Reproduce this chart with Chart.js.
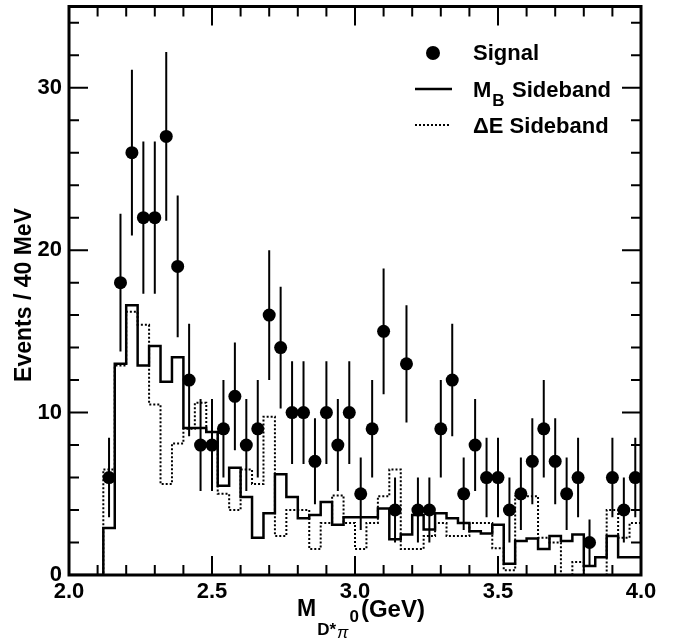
<!DOCTYPE html>
<html>
<head>
<meta charset="utf-8">
<script src="https://cdn.jsdelivr.net/npm/chart.js@4.4.1/dist/chart.umd.min.js"></script>
<style>
    html, body { margin: 0; padding: 0; background: #fff; }
    #wrap { width: 684px; height: 643px; position: relative; }
</style>
</head>
<body>
<div id="wrap"><canvas id="massChart"></canvas></div>
<script>
// 40 MeV bins, lower edges (GeV)
const binLow = [
    2.00, 2.04, 2.08, 2.12, 2.16, 2.20, 2.24, 2.28, 2.32, 2.36,
    2.40, 2.44, 2.48, 2.52, 2.56, 2.60, 2.64, 2.68, 2.72, 2.76,
    2.80, 2.84, 2.88, 2.92, 2.96, 3.00, 3.04, 3.08, 3.12, 3.16,
    3.20, 3.24, 3.28, 3.32, 3.36, 3.40, 3.44, 3.48, 3.52, 3.56,
    3.60, 3.64, 3.68, 3.72, 3.76, 3.80, 3.84, 3.88, 3.92, 3.96
];
const binWidth = 0.04;

// signal events per bin
const signal = [
    0, 0, 0, 6, 18, 26, 22, 22, 27, 19,
    12, 8, 8, 9, 11, 8, 9, 16, 14, 10,
    10, 7, 10, 8, 10, 5, 9, 15, 4, 13,
    4, 4, 9, 12, 5, 8, 6, 6, 4, 5,
    7, 9, 7, 5, 6, 2, 0, 6, 4, 6
];

// M_B sideband (scaled)
const mbSideband = [
    0, 0, 0, 2.9, 13.0, 16.6, 12.9, 14.1, 11.9, 13.4,
    9.05, 9.05, 8.8, 5.5, 6.6, 4.8, 2.3, 3.8, 6.2, 4.8,
    3.5, 3.7, 4.5, 3.1, 3.55, 3.55, 3.55, 4.1, 2.2, 2.5,
    3.7, 2.8, 3.8, 3.5, 3.2, 2.7, 2.55, 3.1, 0.7, 2.1,
    2.25, 1.6, 2.4, 2.1, 2.5, 0.55, 1.1, 2.4, 1.1, 1.1
];

// Delta E sideband (scaled)
const deSideband = [
    0, 0, 0, 6.5, 12.9, 16.2, 15.4, 10.5, 5.6, 8.1,
    9.0, 10.6, 8.8, 5.0, 4.0, 6.5, 5.6, 9.75, 2.4, 4.0,
    4.0, 1.6, 3.2, 4.9, 3.2, 1.6, 3.2, 4.85, 6.5, 1.6,
    1.6, 2.4, 3.2, 2.4, 2.4, 3.2, 3.2, 1.65, 0.3, 4.85,
    4.85, 2.3, 2.0, 0, 0.8, 0, 0, 4.0, 2.3, 3.2
];

const xMin = 2.0, xMax = 4.0;
const yMin = 0, yMax = 35;

const FONT = '"Liberation Sans", Arial, Helvetica, sans-serif';

function histPoints(vals) {
    const pts = binLow.map((x, i) => ({ x: x, y: vals[i] }));
    pts.push({ x: binLow[binLow.length - 1] + binWidth, y: vals[vals.length - 1] });
    return pts;
}

const signalPoints = [];
signal.forEach((n, i) => {
    if (n > 0) signalPoints.push({ x: binLow[i] + binWidth / 2, y: n });
});

// frame + inward ticks like ROOT
const frameTicks = {
    id: 'frameTicks',
    afterDraw(chart) {
        const { ctx, chartArea: a, scales: { x, y } } = chart;
        ctx.save();
        ctx.strokeStyle = '#000';
        ctx.lineWidth = 2;
        ctx.beginPath();
        for (let v = 2.0; v <= 4.0001; v += 0.1) {
            const px = x.getPixelForValue(v);
            const major = Math.abs(v * 2 - Math.round(v * 2)) < 1e-6;
            const len = major ? 19 : 10;
            ctx.moveTo(px, a.bottom); ctx.lineTo(px, a.bottom - len);
            ctx.moveTo(px, a.top); ctx.lineTo(px, a.top + len);
        }
        for (let v = 0; v <= yMax; v += 2) {
            const py = y.getPixelForValue(v);
            const major = v % 10 === 0;
            const len = major ? 19 : 10;
            ctx.moveTo(a.left, py); ctx.lineTo(a.left + len, py);
            ctx.moveTo(a.right, py); ctx.lineTo(a.right - len, py);
        }
        ctx.stroke();
        ctx.lineWidth = 3;
        ctx.strokeRect(a.left, a.top, a.right - a.left, a.bottom - a.top);

        // axis titles
        ctx.fillStyle = '#000';
        ctx.textBaseline = 'alphabetic';
        ctx.textAlign = 'left';
        ctx.font = 'bold 23px ' + FONT;
        let cx = 297;
        ctx.fillText('M', cx, 616);
        cx += ctx.measureText('M').width + 1;
        ctx.font = 'bold 17px ' + FONT;
        ctx.fillText('D*', cx, 635);
        cx += ctx.measureText('D*').width + 1;
        ctx.font = 'italic 17px ' + FONT;
        ctx.fillText('\u03C0', cx, 638);
        cx += ctx.measureText('\u03C0').width + 1;
        ctx.font = 'bold 17px ' + FONT;
        ctx.fillText('0', cx, 622);
        cx += ctx.measureText('0').width + 2;
        ctx.font = 'bold 24px ' + FONT;
        ctx.fillText('(GeV)', cx, 617);

        ctx.save();
        ctx.translate(25, 295);
        ctx.rotate(-Math.PI / 2);
        ctx.textAlign = 'center';
        ctx.textBaseline = 'middle';
        ctx.font = 'bold 23px ' + FONT;
        ctx.fillText('Events / 40 MeV', 0, 0);
        ctx.restore();

        // legend
        ctx.beginPath();
        ctx.arc(433, 53, 7, 0, Math.PI * 2);
        ctx.fill();
        ctx.lineWidth = 2.5;
        ctx.beginPath();
        ctx.moveTo(415, 89); ctx.lineTo(452, 89);
        ctx.stroke();
        ctx.lineWidth = 2;
        ctx.setLineDash([2, 2]);
        ctx.beginPath();
        ctx.moveTo(415, 125); ctx.lineTo(451, 125);
        ctx.stroke();
        ctx.setLineDash([]);

        ctx.textAlign = 'left';
        ctx.font = 'bold 22px ' + FONT;
        ctx.fillText('Signal', 473, 60);
        ctx.fillText('M', 473, 97);
        const mw = ctx.measureText('M').width;
        ctx.font = 'bold 17px ' + FONT;
        ctx.fillText('B', 473 + mw + 1, 106);
        ctx.font = 'bold 22px ' + FONT;
        ctx.fillText('Sideband', 512, 97);
        ctx.fillText('\u0394E Sideband', 473, 133);
        ctx.restore();
    }
};

// sqrt(N) error bars on the signal points
const errorBars = {
    id: 'errorBars',
    afterDatasetsDraw(chart) {
        const { ctx, scales: { y } } = chart;
        const meta = chart.getDatasetMeta(0);
        ctx.save();
        ctx.strokeStyle = '#000';
        ctx.lineWidth = 2;
        ctx.beginPath();
        meta.data.forEach((pt, i) => {
            const n = signalPoints[i].y;
            const e = Math.sqrt(n);
            ctx.moveTo(pt.x, y.getPixelForValue(n + e));
            ctx.lineTo(pt.x, y.getPixelForValue(Math.max(0, n - e)));
        });
        ctx.stroke();
        ctx.restore();
    }
};

const ctx = document.getElementById('massChart').getContext('2d');
new Chart(ctx, {
    type: 'line',
    data: {
        datasets: [{
            label: 'Signal',
            data: signalPoints,
            showLine: false,
            clip: false,
            pointRadius: 6.5,
            pointHoverRadius: 6.5,
            pointBackgroundColor: '#000',
            pointBorderColor: '#000',
            pointBorderWidth: 0
        }, {
            label: 'M_B Sideband',
            data: histPoints(mbSideband),
            stepped: true,
            borderColor: '#000',
            borderWidth: 2.5,
            pointRadius: 0,
            fill: false
        }, {
            label: 'ΔE Sideband',
            data: histPoints(deSideband),
            stepped: true,
            borderColor: '#000',
            borderWidth: 2,
            borderDash: [2, 2],
            pointRadius: 0,
            fill: false
        }]
    },
    options: {
        responsive: true,
        maintainAspectRatio: false,
        animation: false,
        layout: { padding: { left: 0, right: 43, top: 5, bottom: 0 } },
        plugins: {
            legend: { display: false },
            tooltip: { enabled: false }
        },
        scales: {
            x: {
                type: 'linear',
                min: xMin,
                max: xMax,
                grid: { display: false, drawTicks: false },
                border: { display: false },
                afterFit: (s) => {
                    s.height = 68;
                    s.paddingLeft = 0; s.paddingRight = 0;
                },
                ticks: {
                    stepSize: 0.5,
                    includeBounds: false,
                    padding: 4,
                    color: '#000',
                    maxRotation: 0,
                    font: { family: FONT, size: 22, weight: 'bold' },
                    callback: (v) => Number(v).toFixed(1)
                }
            },
            y: {
                min: yMin,
                max: yMax,
                grid: { display: false, drawTicks: false },
                border: { display: false },
                afterFit: (s) => {
                    s.width = 69;
                    s.paddingTop = 0; s.paddingBottom = 0;
                },
                ticks: {
                    stepSize: 10,
                    includeBounds: false,
                    padding: 7,
                    color: '#000',
                    font: { family: FONT, size: 22, weight: 'bold' }
                }
            }
        }
    },
    plugins: [errorBars, frameTicks]
});
</script>
</body>
</html>
